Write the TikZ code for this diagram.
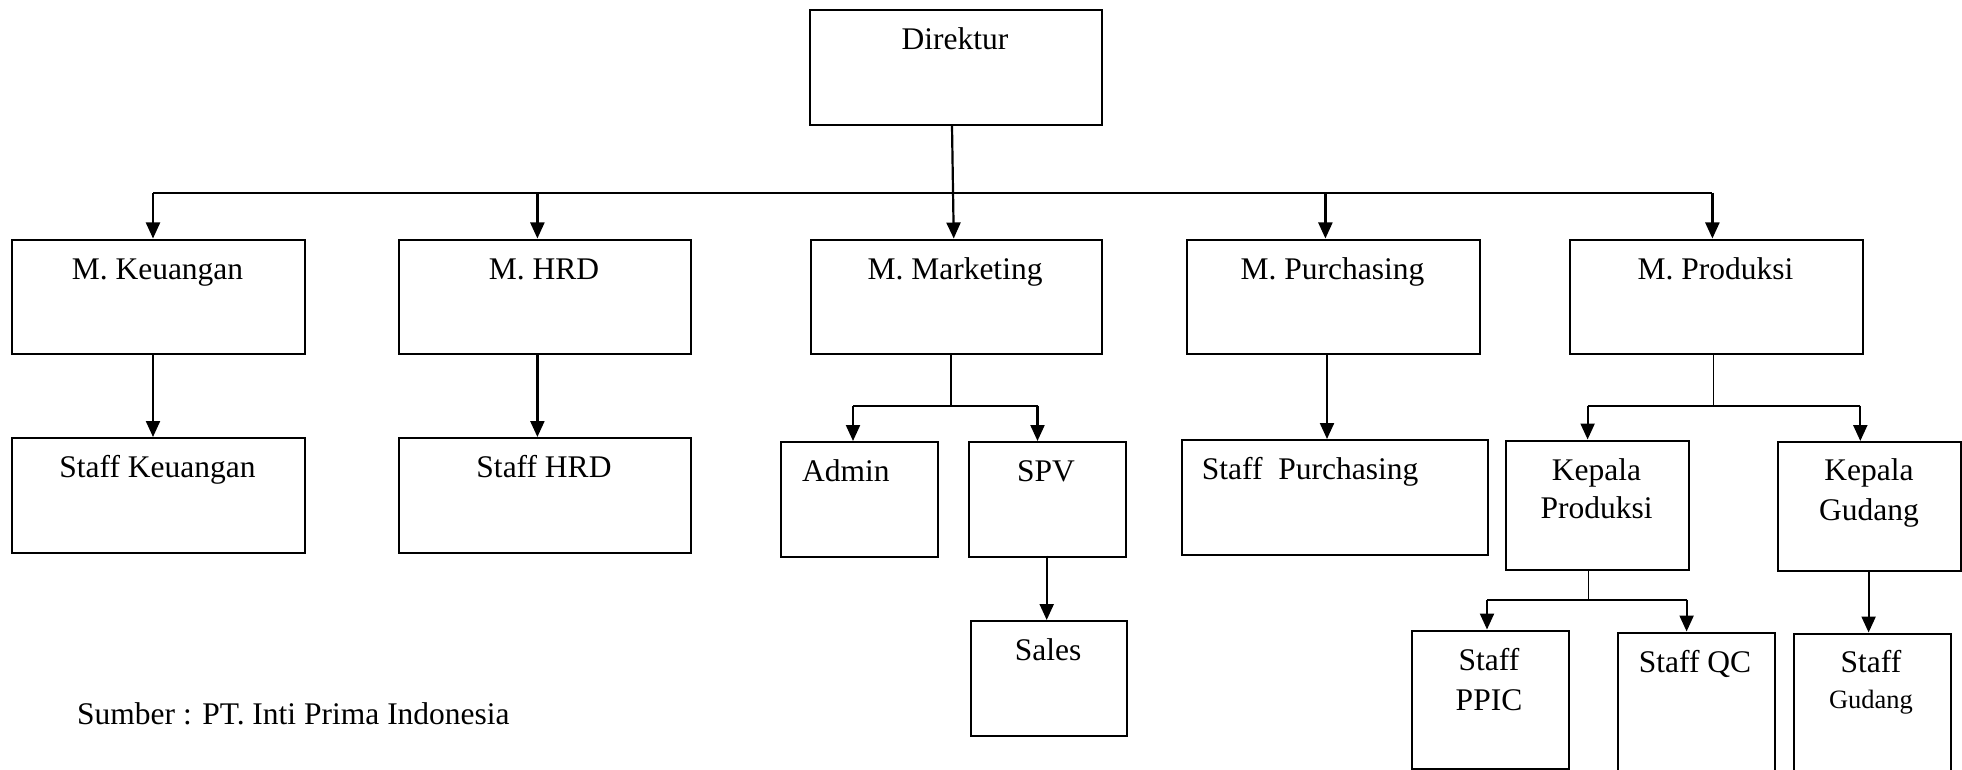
\documentclass[tikz,border=0pt]{standalone}
\usepackage{fontspec}
\setmainfont{Liberation Serif}
\usetikzlibrary{arrows.meta}
\tikzset{
  box/.style={draw=black, line width=2pt, inner sep=0pt, anchor=north west, fill=white},
  lbl/.style={inner sep=0pt, anchor=base, font=\fontsize{31.5}{38}\selectfont},
  lblw/.style={inner sep=0pt, anchor=base west, font=\fontsize{31.5}{38}\selectfont},
  lbls/.style={inner sep=0pt, anchor=base, font=\fontsize{26.5}{32}\selectfont},
  conn/.style={line width=2.2pt},
  thin/.style={line width=1.3pt},
  arr/.style={line width=2.2pt, -{Triangle[length=16pt,width=14pt]}},
}
\begin{document}
\begin{tikzpicture}[x=1pt,y=-1pt]
\clip (0,0) rectangle (1962,770);
\fill[white] (0,0) rectangle (1962,770);
% boxes
\node[box, minimum width=292pt, minimum height=114.5pt] (dir) at (809,9.5) {};
\node[box, minimum width=293pt, minimum height=114.5pt] (mk) at (11,238.5) {};
\node[box, minimum width=292pt, minimum height=114.5pt] (mh) at (398,238.5) {};
\node[box, minimum width=291.5pt, minimum height=114.5pt] (mm) at (809.5,238.5) {};
\node[box, minimum width=293pt, minimum height=114.5pt] (mp) at (1186,238.5) {};
\node[box, minimum width=293pt, minimum height=114.5pt] (mpr) at (1569,238.5) {};
\node[box, minimum width=293pt, minimum height=115pt] (sk) at (11,437) {};
\node[box, minimum width=292pt, minimum height=115pt] (sh) at (398,437) {};
\node[box, minimum width=156.5pt, minimum height=114.5pt] (adm) at (780,441) {};
\node[box, minimum width=157pt, minimum height=114.5pt] (spv) at (968,441) {};
\node[box, minimum width=156.5pt, minimum height=115pt] (sales) at (969.5,620) {};
\node[box, minimum width=306pt, minimum height=114.5pt] (sp) at (1181,439) {};
\node[box, minimum width=183.5pt, minimum height=129pt] (kp) at (1504.5,439.5) {};
\node[box, minimum width=183pt, minimum height=129pt] (kg) at (1777,441) {};
\node[box, minimum width=157pt, minimum height=138.5pt] (ppic) at (1411,629.5) {};
\node[box, minimum width=156.5pt, minimum height=143.5pt] (qc) at (1617,631.5) {};
\node[box, minimum width=156.5pt, minimum height=142.5pt] (sg) at (1793,632.5) {};
% texts
\node[lbl] (tdir) at (955,50) {Direktur};
\node[lbl] (tmk) at (157.5,279) {M. Keuangan};
\node[lbl] (tmh) at (544,279) {M. HRD};
\node[lbl] (tmm) at (955,279) {M. Marketing};
\node[lbl] (tmp) at (1332.5,279) {M. Purchasing};
\node[lbl] (tmpr) at (1715.5,279) {M. Produksi};
\node[lbl] (tsk) at (157.5,477) {Staff Keuangan};
\node[lbl] (tsh) at (544,477) {Staff HRD};
\node[lblw] (tadm) at (802,481.7) {Admin};
\node[lbl] (tspv) at (1046,481.7) {SPV};
\node[lbl] (tsales) at (1048,660) {Sales};
\node[lblw] (tsp) at (1201.7,479.3) {Staff\ \ Purchasing};
\node[lbl] (tkp1) at (1596.5,480) {Kepala};
\node[lbl] (tkp2) at (1596.5,518.3) {Produksi};
\node[lbl] (tkg1) at (1869,480.7) {Kepala};
\node[lbl] (tkg2) at (1869,520) {Gudang};
\node[lbl] (tpp1) at (1489,670) {Staff};
\node[lbl] (tpp2) at (1489,710) {PPIC};
\node[lbl] (tqc) at (1695,672.7) {Staff QC};
\node[lbl] (tsg1) at (1871,672.7) {Staff};
\node[lbls] (tsg2) at (1871,708) {Gudang};
\node[lblw] (src) at (77,724) {Sumber : PT. Inti Prima Indonesia};
% top bus
\coordinate (jk) at (153,192.7);
\coordinate (jh) at (537.4,192.7);
\coordinate (jp) at (1325.4,192.7);
\coordinate (jpr) at (1712.4,192.7);
\draw[conn] (jk) -- (jpr);
\draw[arr] ([xshift=-4pt]dir.south) -- ([xshift=-2.5pt]mm.north);
\draw[arr] (jk) -- (jk |- mk.north);
\draw[arr] (jh) -- (jh |- mh.north);
\draw[arr] (jp) -- (jp |- mp.north);
\draw[arr] (jpr) -- (jpr |- mpr.north);
% single children
\draw[arr] (mk.south -| jk) -- (jk |- sk.north);
\draw[arr] (mh.south -| jh) -- (jh |- sh.north);
\coordinate (cp) at (1327,353);
\draw[arr] (cp) -- (cp |- sp.north);
\coordinate (cs) at (1046.7,555.5);
\draw[arr] (cs) -- (cs |- sales.north);
\coordinate (cg) at (1868.6,570);
\draw[arr] (cg) -- (cg |- sg.north);
% marketing split
\coordinate (mstem) at (951,405.7);
\coordinate (ma) at (853,405.7);
\coordinate (ms) at (1037.5,405.7);
\draw[thin] (mm.south -| mstem) -- (mstem);
\draw[conn] (ma) -- (ms);
\draw[arr] (ma) -- (ma |- adm.north);
\draw[arr] (ms) -- (ms |- spv.north);
% produksi split
\coordinate (pstem) at (1713.5,405.7);
\coordinate (pk) at (1587.6,405.7);
\coordinate (pg) at (1860.3,405.7);
\draw[thin] (mpr.south -| pstem) -- (pstem);
\draw[conn] (pk) -- (pg);
\draw[arr] (pk) -- (pk |- kp.north);
\draw[arr] (pg) -- (pg |- kg.north);
% kepala produksi split
\coordinate (kstem) at (1588.7,599.7);
\coordinate (kpp) at (1487,599.7);
\coordinate (kqc) at (1686.6,599.7);
\draw[thin] (kp.south -| kstem) -- (kstem);
\draw[conn] (kpp) -- (kqc);
\draw[arr] (kpp) -- (kpp |- ppic.north);
\draw[arr] (kqc) -- (kqc |- qc.north);
\end{tikzpicture}
\end{document}
